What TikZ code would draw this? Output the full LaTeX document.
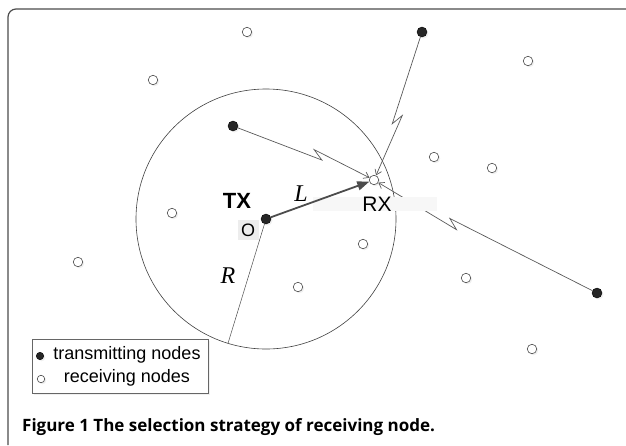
\documentclass[tikz,border=0pt]{standalone}
\usepackage{fontspec}
\setmainfont{Liberation Sans}
\newfontfamily\capfont{Open Sans}
\newfontfamily\varfont{Liberation Serif}
\usetikzlibrary{calc}
\usetikzlibrary{arrows.meta,shadows}
\tikzset{
  sender/.style={circle, fill=black!85, draw=black, inner sep=0pt, minimum size=10pt,
    drop shadow={opacity=0.12, shadow xshift=1.5pt, shadow yshift=-1.5pt}},
  receiver/.style={circle, fill=white, draw=black!70, line width=0.6pt, inner sep=0pt, minimum size=9.5pt,
    drop shadow={opacity=0.12, shadow xshift=1.5pt, shadow yshift=-1.5pt}},
  link/.style={draw=black!65, line width=0.7pt, -{Straight Barb[length=5pt,width=7pt]}},
  frame/.style={draw=black!70, line width=1.2pt, rounded corners=8pt},
  var/.style={font=\varfont\itshape\fontsize{24}{24}\selectfont}
}
% link with a lightning kink at fraction #3 of the way from #1 to #2
\newcommand{\zapline}[3]{ \coordinate (zp) at ($(#1)!#3!(#2)$); \coordinate (zb) at ($(zp)!11pt!(#1)$); \coordinate (zq) at ($(zb)!7pt!-90:(#1)$); \draw[link] (#1) -- (zp) -- (zq) -- (#2);}

\begin{document}
\begin{tikzpicture}[x=1pt, y=-1pt]
\useasboundingbox (0,0) rectangle (626,445);
\draw[frame] (8,445) -- (8,9) -- (626,9);
% senders
\node[sender] (tx) at (266,219) {};
\node[sender] (s1) at (233,126) {};
\node[sender] (s2) at (422,32) {};
\node[sender] (s3) at (597,293) {};
% receivers
\node[receiver] (rx) at (374,180) {};
\foreach \x/\y [count=\i] in {247/32, 153/80, 528/61, 434/157, 492/168, 172/213, 78/262, 363/244, 298/287, 466/278, 532/349}
  \node[receiver] (r\i) at (\x,\y) {};
% range of tx
\draw[black!75, line width=0.6pt] (tx.center) circle[radius=130];
\coordinate (rim) at ($(tx.center)+(107:130)$);
\draw[black!70, line width=0.5pt] (tx) -- (rim);
\node[var] (rlab) at (228,276) {R};
% interfering links
\zapline{s1}{rx}{0.63}
\zapline{s2}{rx}{0.62}
\zapline{s3}{rx}{0.66}
% wanted link
\node[fill=black!3, minimum width=124pt, minimum height=14pt, inner sep=0pt] (rxband) at (375,204) {};
\draw[black!70, line width=1.8pt, -{Triangle[length=12pt,width=9pt]}] (tx) -- (rx);
\node[var] (llab) at (301,194) {L};
\node[font=\bfseries\fontsize{22}{22}\selectfont] (txlab) at (237,201) {TX};
\node[fill=black!7, inner sep=3.5pt, font=\fontsize{18}{18}\selectfont] (olab) at (248,230) {O};
\node[font=\fontsize{21}{21}\selectfont] (rxlab) at (377,204) {RX};
% legend
\node[draw=black!60, fill=white, minimum width=176pt, minimum height=54pt,
  drop shadow={opacity=0.12, shadow xshift=2pt, shadow yshift=-2pt}] (key) at (120,366) {};
\node[align=center, font=\fontsize{18}{23}\selectfont] (keytext) at (127,366)
  {transmitting nodes\\receiving nodes};
\node[sender, minimum size=7.5pt] (keys) at (40,356) {};
\node[receiver, minimum size=7.5pt] (keyr) at (41,379) {};
% caption
\node[anchor=base west, inner sep=0pt, font=\capfont\bfseries\fontsize{17}{17}\selectfont] (cap) at (22,431)
  {Figure 1 The selection strategy of receiving node.};
\end{tikzpicture}
\end{document}
